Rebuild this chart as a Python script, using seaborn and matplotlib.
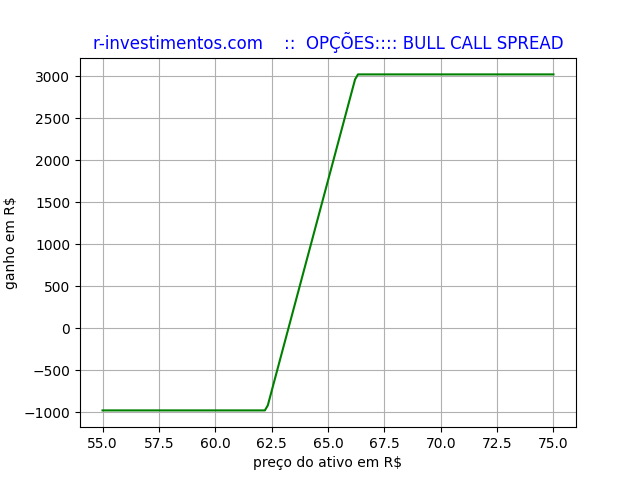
import matplotlib
matplotlib.use("Agg")
import matplotlib.pyplot as plt
import pandas as pd
import seaborn as sns

# payoff vertices
preco = [55.0, 62.2, 62.33, 66.2, 66.33, 75.0]
ganho = [-980, -980, -920, 2960, 3020, 3020]

df = pd.DataFrame({"preco": preco, "ganho": ganho})

fig, ax = plt.subplots(figsize=(6.4, 4.8), dpi=100)
sns.lineplot(data=df, x="preco", y="ganho", color="green", linewidth=1.5,
             estimator=None, sort=False, ax=ax)
ax.grid(True, color="#b0b0b0", linewidth=0.8)
ax.set_axisbelow(True)
ax.set_xlabel("preço do ativo em R$")
ax.set_ylabel("ganho em R$")
ax.set_title("r-investimentos.com    ::  OPÇÕES:::: BULL CALL SPREAD",
             color="blue", fontsize=12)
fig.savefig("out.png", dpi=100)
